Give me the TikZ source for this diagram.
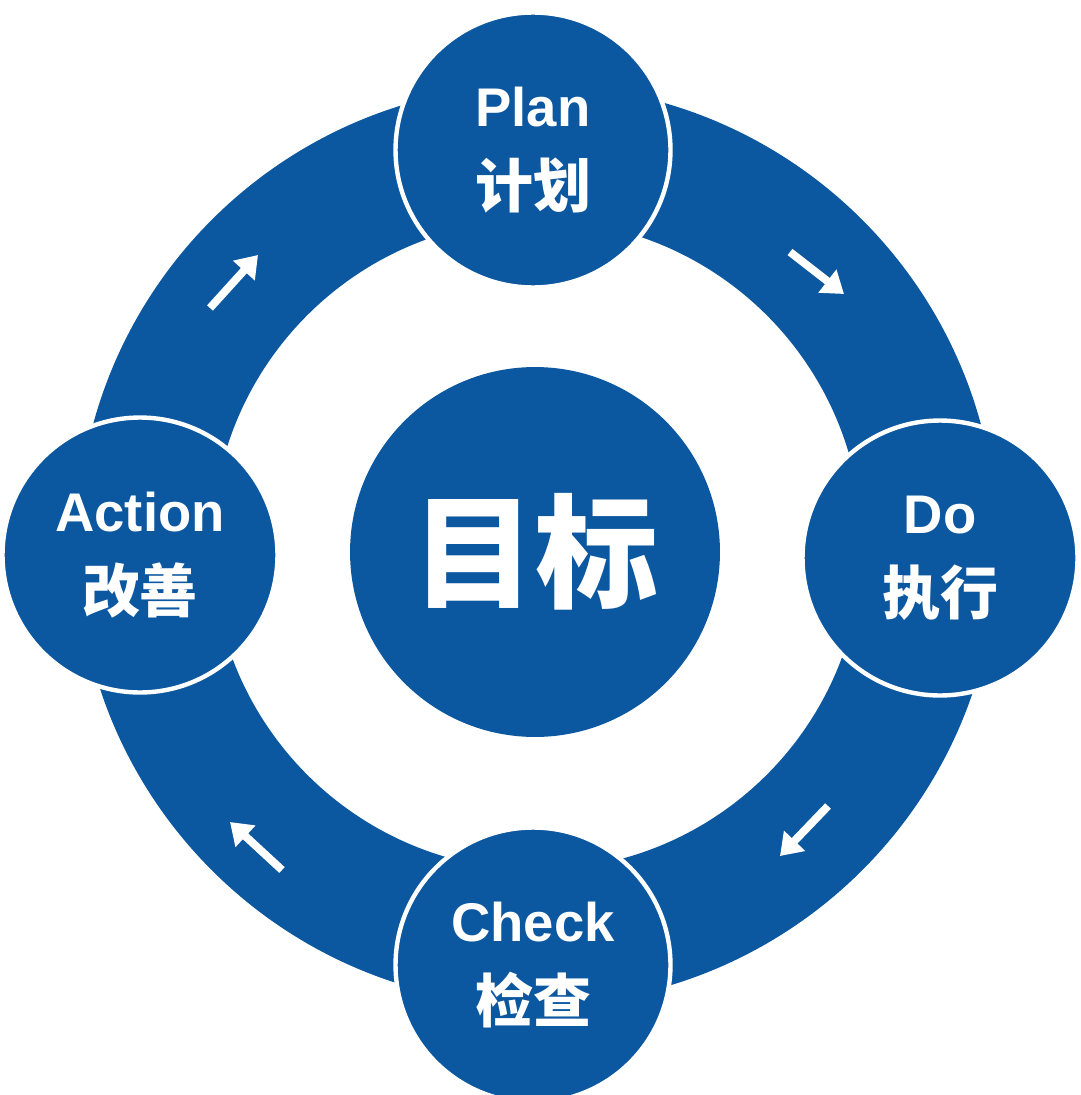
\documentclass[tikz,border=0pt]{standalone}
\usepackage{fontspec}
\setmainfont{Liberation Sans}
\newfontfamily\cjk{Noto Sans CJK SC}
\usetikzlibrary{arrows.meta}
\definecolor{pdcablue}{HTML}{0B57A0}

\begin{document}
\begin{tikzpicture}[%
        x = 0.02cm, y = -0.02cm,
        stage/.style = {circle, fill = pdcablue, draw = white, line width = 2.5pt,
            minimum size = 5.5cm, inner sep = 0pt, text = white, align = center,
            font = \bfseries\fontsize{31}{46}\selectfont},
        flow/.style = {draw = white, line width = 4.5pt, -{Triangle[length = 12pt, width = 16pt]}}
    ]

        \useasboundingbox (0, 0) rectangle (1080, 1095);

        % The ring behind the stages.
        \fill[pdcablue, even odd rule] (537, 545) circle (9.2cm) (537, 545) circle (6.5cm);

        % Centre node.
        \node[circle, fill = pdcablue, minimum size = 7.4cm, text = white,
              font = \cjk\bfseries\fontsize{70}{74}\selectfont] (goal) at (535, 552) {目标};

        % The four stages.
        \node[stage] (plan) at (533, 150) {Plan\\{\cjk\fontsize{33}{46}\selectfont 计划}};
        \node[stage] (do) at (940, 558) {Do\\{\cjk\fontsize{33}{46}\selectfont 执行}};
        \node[stage] (check) at (533, 965) {Check\\{\cjk\fontsize{33}{46}\selectfont 检查}};
        \node[stage] (act) at (140, 555) {Action\\{\cjk\fontsize{33}{46}\selectfont 改善}};

        % End points of the small arrows.
        \coordinate (pd1) at (790, 252);
        \coordinate (pd2) at (844, 294);
        \coordinate (dc1) at (828, 806);
        \coordinate (dc2) at (780, 856);
        \coordinate (ca1) at (282, 870);
        \coordinate (ca2) at (230, 822);
        \coordinate (ap1) at (210, 308);
        \coordinate (ap2) at (258, 255);

        % Clockwise arrows.
        \draw[flow] (pd1) -- (pd2);
        \draw[flow] (dc1) -- (dc2);
        \draw[flow] (ca1) -- (ca2);
        \draw[flow] (ap1) -- (ap2);
    \end{tikzpicture}
\end{document}
